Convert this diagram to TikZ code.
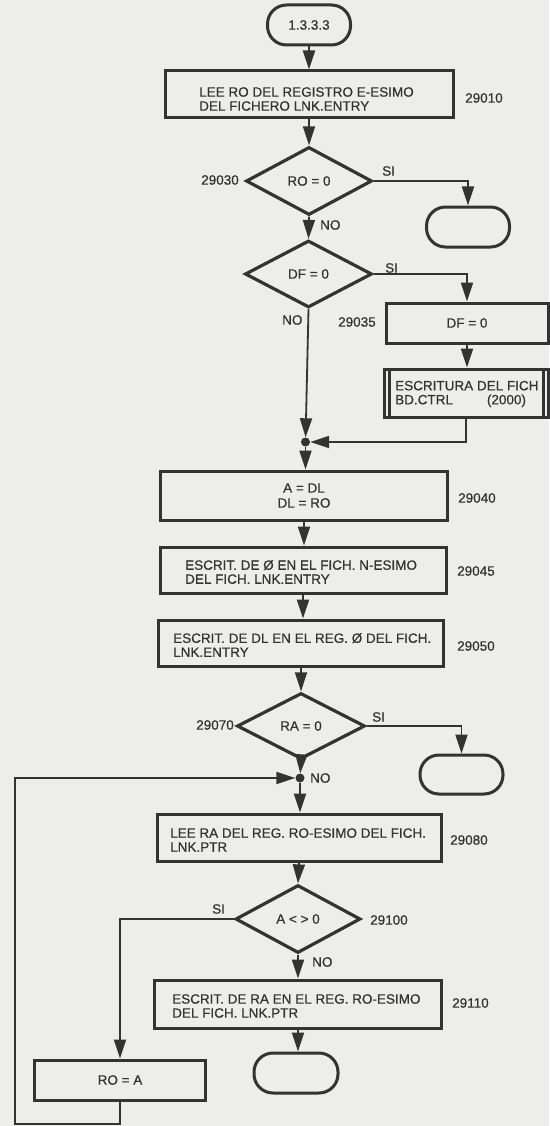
\documentclass[tikz,border=0pt]{standalone}
\usepackage{fontspec}
\setmainfont{Liberation Sans}[FakeBold=0.6]
\usetikzlibrary{arrows.meta,shapes.geometric,calc}
\definecolor{ink}{HTML}{333333}
\definecolor{paper}{HTML}{EDEDEB}
\begin{document}
\begin{tikzpicture}[x=1pt,y=-1pt,
  every node/.style={font=\fontsize{13.5}{14}\selectfont, text=ink},
  pbox/.style={draw=ink, line width=3pt, rectangle, inner sep=0pt},
  txt/.style={inner sep=0pt, anchor=west, align=left},
  term/.style={draw=ink, line width=3pt, rectangle, rounded corners=19pt, minimum width=83pt, minimum height=40pt, inner sep=0pt},
  dec/.style={draw=ink, line width=3.2pt, diamond, inner sep=0pt},
  arr/.style={draw=ink, line width=1.8pt, -{Triangle[length=19pt,width=12pt]}},
  lbl/.style={inner sep=0pt},
  dot/.style={circle, fill=ink, inner sep=0pt, minimum size=9pt},
]
\fill[paper] (0,0) rectangle (549,1126);
\useasboundingbox (0,0) rectangle (549,1126);

% nodes
\node[term] (t1) at (309,25) {1.3.3.3};
\node[pbox, minimum width=288pt, minimum height=47pt] (b1) at (309,94.5) {};
\node[txt] (b1t) at (199,99) {LEE RO DEL REGISTRO E-ESIMO\\DEL FICHERO LNK.ENTRY};
\node[dec, minimum width=126pt, minimum height=68pt] (d1) at (309,181) {RO = 0};
\node[term] (t2) at (468,227) {};
\node[dec, minimum width=127pt, minimum height=67pt] (d2) at (308.5,274) {DF = 0};
\node[pbox, minimum width=162pt, minimum height=40pt] (bdf) at (467,323) {DF = 0};
\node[pbox, minimum width=164pt, minimum height=48pt] (esc) at (466,393) {};
\draw[ink, line width=2.4pt] ([xshift=7pt]esc.north west) -- ([xshift=7pt]esc.south west);
\draw[ink, line width=2.4pt] ([xshift=-6pt]esc.north east) -- ([xshift=-6pt]esc.south east);
\node[txt] (esct) at (395,394) {ESCRITURA DEL FICH\\BD.CTRL\hspace{34pt}(2000)};
\node[dot] (j1) at (305.5,442) {};
\node[pbox, minimum width=287pt, minimum height=49pt, align=center, font=\fontsize{13.5}{15}\selectfont] (b2) at (304,495.5) {A = DL\\DL = RO};
\node[pbox, minimum width=286pt, minimum height=46pt] (b3) at (303,570) {};
\node[txt] (b3t) at (185,572) {ESCRIT. DE Ø EN EL FICH. N-ESIMO\\DEL FICH. LNK.ENTRY};
\node[pbox, minimum width=285pt, minimum height=46pt] (b4) at (301,643) {};
\node[txt] (b4t) at (173,645) {ESCRIT. DE DL EN EL REG. Ø DEL FICH.\\LNK.ENTRY};
\node[dec, minimum width=128pt, minimum height=66pt] (d3) at (301,726) {RA = 0};
\node[term, minimum width=83pt, minimum height=39pt] (t3) at (461.5,774.5) {};
\node[dot] (j2) at (300,778) {};
\node[pbox, minimum width=284pt, minimum height=47pt] (b5) at (299,837.5) {};
\node[txt] (b5t) at (170,840) {LEE RA DEL REG. RO-ESIMO DEL FICH.\\LNK.PTR};
\node[dec, minimum width=125pt, minimum height=68pt] (d4) at (298,919) {A < > 0};
\node[pbox, minimum width=287pt, minimum height=48pt] (b6) at (298,1004) {};
\node[txt] (b6t) at (172,1006) {ESCRIT. DE RA EN EL REG. RO-ESIMO\\DEL FICH. LNK.PTR};
\node[term, minimum width=84pt] (t4) at (296,1073) {};
\node[pbox, minimum width=171pt, minimum height=40pt] (b7) at (120,1080) {RO = A};
\coordinate (lc) at (15,1124);

% labels
\node[lbl, anchor=west] (l29010) at (465,98) {29010};
\node[lbl, anchor=east] (l29030) at (239,180) {29030};
\node[lbl, anchor=west] (lsi1) at (382,171) {SI};
\node[lbl, anchor=west] (lno1) at (320,225) {NO};
\node[lbl, anchor=west] (lsi2) at (385,268) {SI};
\node[lbl, anchor=west] (lno2) at (282,320) {NO};
\node[lbl, anchor=west] (l29035) at (338,322) {29035};
\node[lbl, anchor=west] (l29040) at (458,498) {29040};
\node[lbl, anchor=west] (l29045) at (457,571) {29045};
\node[lbl, anchor=west] (l29050) at (457,646) {29050};
\node[lbl, anchor=east] (l29070) at (234,725) {29070};
\node[lbl, anchor=west] (lsi3) at (372,717) {SI};
\node[lbl, anchor=west] (lno3) at (310,778) {NO};
\node[lbl, anchor=west] (l29080) at (450,840) {29080};
\node[lbl, anchor=west] (lsi4) at (212,909) {SI};
\node[lbl, anchor=west] (l29100) at (370,920) {29100};
\node[lbl, anchor=west] (lno4) at (312,962) {NO};
\node[lbl, anchor=west] (l29110) at (452,1003) {29110};

% connectors
\draw[arr] (t1) -- (b1);
\draw[arr] (b1) -- (d1);
\draw[arr] (d1.east) -| (t2.north);
\draw[arr] (d1.south) -- (d2.north);
\draw[arr] (d2.east) -| (bdf.north);
\draw[arr] (bdf.south) -- (bdf.south |- esc.north);
\draw[arr] (esc.south) |- (j1);
\draw[arr] (d2.south) -- (j1);
\draw[arr] (j1) -- (j1 |- b2.north);
\draw[arr] (b2.south) -- (b2.south |- b3.north);
\draw[arr] (b3.south) -- (b3.south |- b4.north);
\draw[arr] (b4.south) -- (d3.north);
\draw[arr] (d3.east) -| (t3.north);
\draw[arr] (d3.south) -- (j2);
\draw[arr] (j2) -- (j2 |- b5.north);
\draw[arr] (b5.south) -- (d4.north);
\draw[arr] (d4.west) -| (b7.north);
\draw[arr] (d4.south) -- (d4.south |- b6.north);
\draw[arr] (b6.south) -- (b6.south |- t4.north);
\draw[arr] (b7.south) |- (lc) |- (j2);
\end{tikzpicture}
\end{document}
